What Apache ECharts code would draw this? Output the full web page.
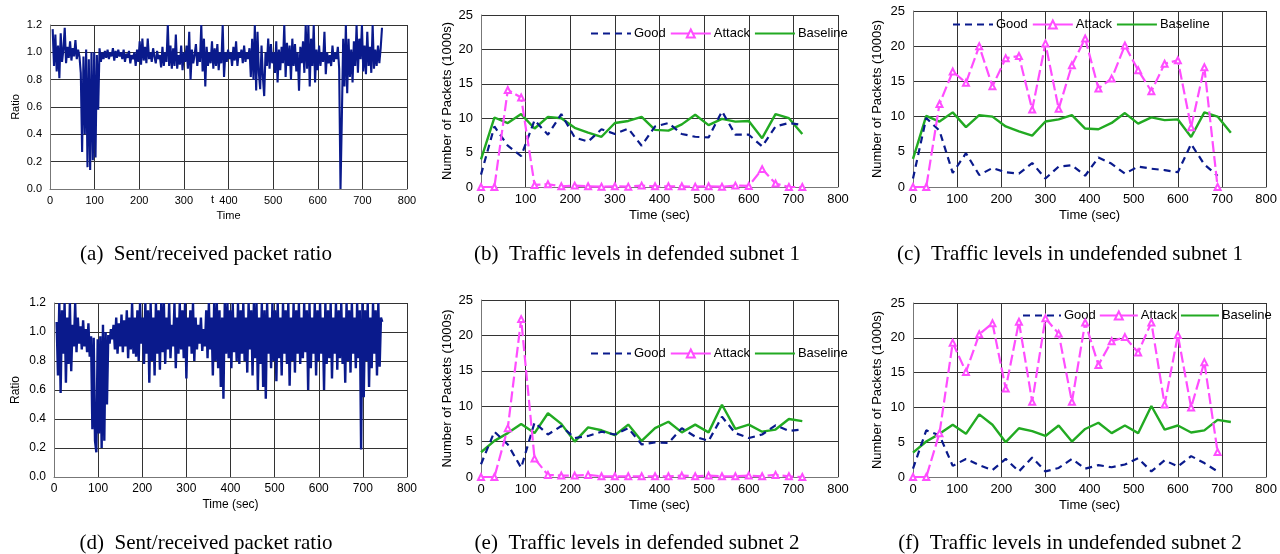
<!DOCTYPE html>
<html>
<head>
<meta charset="utf-8">
<script src="https://cdn.jsdelivr.net/npm/echarts@6/dist/echarts.min.js"></script>
<style>
html,body{margin:0;padding:0;background:#fff;}
#chart{width:1280px;height:554px;}
</style>
</head>
<body>
<div id="chart"></div>
<script>
// ---------------- DATA ----------------
const timeSec = [0,30,60,90,120,150,180,210,240,270,300,330,360,390,420,450,480,510,540,570,600,630,660,690,720];

// subnet 1 (panels b, c)
const goodDef1   = [1.8,8.8,6.0,4.5,9.7,7.6,10.6,7.2,6.6,8.4,7.7,8.5,6.0,8.8,9.3,7.7,7.3,7.2,11.0,7.6,7.6,5.9,8.8,9.3,9.0];
const attackDef1 = [0,0,14.1,13.0,0.3,0.4,0.1,0.2,0.1,0.05,0.1,0.05,0.2,0.1,0.1,0.1,0.05,0.1,0.05,0.2,0.15,2.6,0.5,0,0];
const baseline1  = [4.0,10.1,9.3,10.6,8.5,10.2,10.0,8.6,7.9,7.3,9.3,9.6,10.2,8.3,8.2,9.1,10.5,9.0,9.9,9.5,9.6,7.1,10.6,10.0,7.7];
const goodUndef1   = [1.2,9.8,8.0,2.0,4.8,1.7,2.7,2.1,1.9,3.4,1.2,2.9,3.1,1.6,4.2,3.3,1.9,2.9,2.6,2.4,2.1,6.1,3.2,1.6];
const attackUndef1 = [0,0,11.8,16.4,14.8,20.0,14.3,18.3,18.6,11.0,20.4,11.1,17.3,21.1,14.0,15.4,20.1,16.6,13.6,17.5,18.0,8.5,17.0,0];

// subnet 2 (panels e, f)
const goodDef2   = [1.8,6.4,4.6,1.3,7.7,6.0,7.2,5.5,5.8,6.4,6.0,6.9,4.6,4.9,4.8,6.9,5.7,5.1,8.5,6.2,5.5,6.0,7.3,6.5,6.7];
const attackDef2 = [0,0,6.9,22.3,2.6,0.3,0.2,0.2,0.3,0.1,0.1,0.1,0.1,0.1,0.1,0.2,0.1,0.2,0.1,0.1,0.2,0.1,0.3,0.1,0];
const baseline2  = [3.5,5.1,6.2,7.5,6.2,9.0,7.5,5.0,7.0,6.6,5.9,7.4,5.1,6.9,7.8,6.3,7.4,6.3,10.2,6.8,7.4,6.4,6.7,8.2,7.9];
const goodUndef2   = [1.2,6.7,6.0,1.6,2.6,1.7,1.0,2.6,0.8,2.8,0.8,1.3,2.6,1.2,1.7,1.4,1.8,2.7,0.8,2.4,1.5,3.0,2.0,0.8];
const attackUndef2 = [0,0,6.3,19.3,15.1,20.5,22.1,12.7,22.3,10.8,22.8,20.6,10.8,22.2,16.1,19.5,20.1,17.9,22.2,10.4,20.4,10.0,16.5,3.6];

// sent/received ratio samples (one every ratioStepSec seconds, starting at ratioStartSec)
const ratioStartSec = 6, ratioStepSec = 3;
const ratio1 = [
 1.17,0.9,1.13,0.86,1.05,0.81,1.14,0.93,1.02,1.18,
 0.92,1.04,0.96,1.08,0.94,1.03,0.97,1.09,0.95,1.02,
 0.97,0.85,0.27,0.97,0.4,1.02,0.16,0.95,0.14,1.0,
 0.21,1.0,0.23,0.98,0.58,1.03,0.93,1.0,0.95,1.01,
 0.96,1.02,0.95,1.0,0.97,1.03,0.94,1.01,0.96,1.02,
 0.97,1.0,0.95,1.02,0.93,0.99,0.96,1.01,0.92,0.98,
 0.95,1.0,0.9,1.02,0.93,1.08,0.91,1.1,0.94,1.04,
 0.92,1.1,0.95,1.0,0.93,1.03,0.97,0.92,1.01,0.95,
 0.98,0.89,1.04,0.9,1.0,0.93,1.2,0.9,1.05,0.88,
 1.03,0.9,1.13,0.88,0.98,0.91,1.05,0.87,1.0,0.93,
 1.05,0.88,1.15,0.8,1.02,0.92,0.98,1.06,0.9,1.0,
 0.93,1.2,0.86,1.1,0.75,1.04,0.9,1.0,0.92,1.08,
 0.88,1.03,0.9,1.06,0.87,1.0,0.92,1.2,0.82,1.0,
 0.93,1.02,0.95,1.0,0.9,1.04,0.94,1.08,0.9,1.0,
 0.96,1.02,0.92,1.05,0.93,1.0,0.95,1.03,0.82,1.1,
 0.8,1.2,0.72,1.15,0.85,0.73,1.05,0.82,0.68,1.0,
 0.9,1.1,0.88,1.06,0.92,1.0,0.85,1.08,0.78,1.02,
 0.87,1.04,0.92,1.2,0.82,1.07,0.9,1.05,0.8,1.1,
 0.9,1.06,0.86,1.0,0.72,1.04,0.92,1.08,0.85,1.2,
 0.88,1.2,0.75,1.1,0.9,1.2,0.78,1.02,0.87,1.05,
 0.9,1.0,0.93,1.15,0.84,1.0,0.92,0.98,0.9,1.05,
 0.93,1.0,0.95,1.04,0.88,0.0,0.52,1.1,0.75,1.2,
 0.7,1.1,0.82,1.02,0.78,1.08,0.9,1.2,0.85,1.1,
 0.95,1.2,0.86,1.05,0.84,1.15,0.9,1.04,0.85,1.2,
 0.88,1.02,0.9,1.05,0.92,1.03,1.18
];
const ratio2 = [
 1.07,0.7,1.2,0.58,1.15,0.85,1.2,0.65,1.1,0.78,
 1.2,0.73,1.05,0.9,1.2,0.86,1.1,0.92,1.04,0.88,
 1.08,0.9,1.02,0.86,1.06,0.83,0.97,0.33,0.96,0.25,
 0.17,0.95,0.3,0.97,0.2,1.05,0.25,1.0,0.5,0.98,
 0.92,1.02,0.95,1.05,0.88,1.1,0.85,1.06,0.9,1.12,
 0.86,1.08,0.9,1.15,0.82,1.1,0.88,1.2,0.85,1.1,
 0.83,1.15,0.8,1.2,0.92,1.1,0.78,1.2,0.85,1.15,
 0.65,1.2,0.8,1.1,0.7,1.2,0.85,1.15,0.74,1.2,
 0.86,1.2,0.78,1.1,0.88,1.2,0.82,1.05,0.9,1.2,
 0.75,1.1,0.85,1.2,0.88,1.15,0.82,1.2,0.68,1.1,
 0.9,1.15,0.85,1.2,0.8,1.1,0.88,1.05,0.92,1.1,
 0.87,1.02,0.9,1.15,0.82,1.2,0.88,1.1,0.7,1.2,
 0.8,1.2,0.75,1.15,0.62,1.1,0.54,1.2,0.85,1.2,
 0.82,1.15,0.75,1.2,0.86,1.1,0.8,1.2,0.78,1.15,
 0.85,1.2,0.8,1.1,0.72,1.2,0.88,1.15,0.7,1.2,
 0.82,1.2,0.6,1.1,0.78,1.2,0.62,1.15,0.54,1.2,
 0.85,1.1,0.75,1.2,0.8,1.15,0.66,1.2,0.82,1.1,
 0.7,1.2,0.85,1.15,0.78,1.2,0.63,1.1,0.8,1.2,
 0.72,1.15,0.85,1.2,0.78,1.1,0.82,1.2,0.86,1.15,
 0.6,1.2,0.75,1.1,0.85,1.2,0.7,1.15,0.8,1.2,
 0.85,1.1,0.6,1.2,0.78,1.15,0.82,1.2,0.68,1.1,
 0.85,1.2,0.74,1.15,0.82,1.2,0.78,1.1,0.65,1.2,
 0.8,1.15,0.72,1.2,0.85,1.1,0.75,1.2,0.82,1.15,
 0.19,1.2,0.55,1.15,0.8,1.2,0.62,1.1,0.75,1.2,
 0.85,1.15,0.7,1.2,0.76,1.1,1.07
];

const captions = [
  '(a)\u2002Sent/received packet ratio',
  '(b)\u2002Traffic levels in defended subnet 1',
  '(c)\u2002Traffic levels in undefended subnet 1',
  '(d)\u2002Sent/received packet ratio',
  '(e)\u2002Traffic levels in defended subnet 2',
  '(f)\u2002Traffic levels in undefended subnet 2'
];

// ---------------- CHART ----------------
const FONT = 'Liberation Sans, Arial, sans-serif';
const NAVY = '#0a1a8c', PINK = '#ff4dff', GREEN = '#22aa22';

function pairs(xs, ys){ return ys.map((v,i)=>[xs[i], v]); }
function ratioPairs(ys){ return ys.map((v,i)=>[ratioStartSec + i*ratioStepSec, v]); }

const grids = [
  {left:50,  top:25,  width:357, height:164},
  {left:481, top:15,  width:357, height:172},
  {left:913, top:11,  width:357, height:176},
  {left:54,  top:303, width:353, height:174},
  {left:481, top:300, width:357, height:177},
  {left:913, top:303, width:357, height:174}
];
const fs = [11,13,13,12,13,13];
const xNames = ['Time','Time (sec)','Time (sec)','Time (sec)','Time (sec)','Time (sec)'];
const yNames = ['Ratio','Number of Packets (1000s)','Number of Packets (1000s)','Ratio','Number of Packets (1000s)','Number of Packets (1000s)'];
const yNameGap = [29,27,29,32,27,29];

const xAxis = grids.map((g,i)=>({
  type:'value', gridIndex:i, min:0, max:800, interval:100,
  name:xNames[i], nameLocation:'middle', nameGap: i===0?21:22,
  nameTextStyle:{fontFamily:FONT,fontSize:fs[i],color:'#000'},
  axisLine:{show:true,onZero:false,lineStyle:{color:'#777',width:1}},
  axisTick:{show:false},
  axisLabel:{fontFamily:FONT,fontSize:fs[i],color:'#000',margin:6},
  splitLine:{show:true,lineStyle:{color:'#333',width:1}}
}));
const yAxis = grids.map((g,i)=>{
  const isRatio = (i===0||i===3);
  return {
    type:'value', gridIndex:i, min:0, max:isRatio?1.2:25, interval:isRatio?0.2:5,
    name:yNames[i], nameLocation:'middle', nameGap:yNameGap[i], nameRotate:90,
    nameTextStyle:{fontFamily:FONT,fontSize:fs[i],color:'#000'},
    axisLine:{show:true,lineStyle:{color:'#777',width:1}},
    axisTick:{show:false},
    axisLabel:{fontFamily:FONT,fontSize:fs[i],color:'#000',margin:8,
      formatter: isRatio ? (v=>v.toFixed(1)) : (v=>String(v))},
    splitLine:{show:true,lineStyle:{color:'#333',width:1}}
  };
});

function ratioSeries(data, idx, w){
  return {type:'line', xAxisIndex:idx, yAxisIndex:idx, data:ratioPairs(data),
    showSymbol:false, symbol:'none', lineStyle:{color:NAVY,width:w}, itemStyle:{color:NAVY},
    animation:false, silent:true};
}
function traffic(idx, good, attack, base){
  return [
    {name:'Good', type:'line', xAxisIndex:idx, yAxisIndex:idx, data:pairs(timeSec, good),
      symbol:'none', showSymbol:false, lineStyle:{color:NAVY,width:2.2,type:[7,5]}, itemStyle:{color:NAVY}, animation:false, z:3},
    {name:'Attack', type:'line', xAxisIndex:idx, yAxisIndex:idx, data:pairs(timeSec, attack),
      symbol:'emptyTriangle', symbolSize:6, showSymbol:true,
      lineStyle:{color:PINK,width:2.2,type:[11,4]}, itemStyle:{color:PINK,borderColor:PINK,borderWidth:1.2}, animation:false, z:4},
    {name:'Baseline', type:'line', xAxisIndex:idx, yAxisIndex:idx, data:pairs(timeSec, base),
      symbol:'none', showSymbol:false, lineStyle:{color:GREEN,width:2.4}, itemStyle:{color:GREEN}, animation:false, z:2}
  ];
}

function makeLegend(left, top, itemWidth, itemGap){
  return {
    orient:'horizontal', left, top, itemWidth, itemHeight:10, itemGap, padding:0, width:320,
    textStyle:{fontFamily:FONT,fontSize:13,color:'#000',padding:[0,0,0,-2]},
    selectedMode:false,
    data:[
      {name:'Good', itemStyle:{opacity:0}},
      {name:'Attack', lineStyle:{type:'solid'}},
      {name:'Baseline', itemStyle:{opacity:0}}
    ]
  };
}
const legends = [
  makeLegend(590, 27, 40, 4),
  makeLegend(952, 18, 40, 4),
  makeLegend(590, 347, 40, 4),
  makeLegend(1022, 309, 38, 3)
];

const capPos = [[206,254],[637,254],[1070,254],[206,543],[637,543],[1070,543]];
const graphic = captions.map((c,i)=>({
  type:'text', x:capPos[i][0], y:capPos[i][1], silent:true,
  style:{text:c, x:0, y:0, textAlign:'center', textVerticalAlign:'middle',
    font:'21px "Liberation Serif", "Times New Roman", serif', fill:'#000'}
}));
// stray glyph printed beside the 400 tick in panel (a)
graphic.push({type:'text', left:211, top:194, silent:true,
  style:{text:'t', font:'11px ' + FONT, fill:'#000'}});

const option = {
  backgroundColor:'#fff',
  animation:false,
  grid: grids.map(g=>Object.assign({containLabel:false}, g)),
  xAxis, yAxis,
  legend: legends,
  series: [
    ratioSeries(ratio1, 0, 2.1),
    ...traffic(1, goodDef1, attackDef1, baseline1),
    ...traffic(2, goodUndef1, attackUndef1, baseline1),
    ratioSeries(ratio2, 3, 2.4),
    ...traffic(4, goodDef2, attackDef2, baseline2),
    ...traffic(5, goodUndef2, attackUndef2, baseline2)
  ],
  graphic
};
const chart = echarts.init(document.getElementById('chart'), null, {renderer:'canvas'});
chart.setOption(option);
</script>
</body>
</html>
